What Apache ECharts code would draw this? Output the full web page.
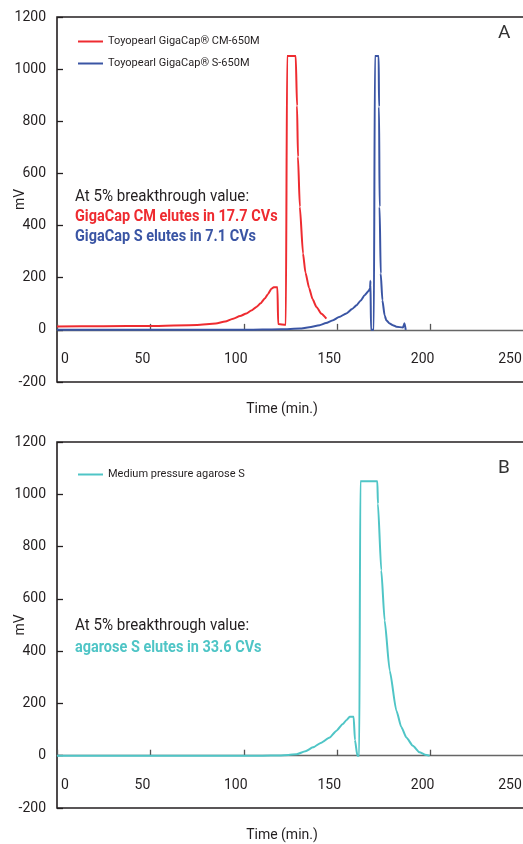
<!DOCTYPE html>
<html>
<head>
<meta charset="utf-8">
<script src="https://cdn.jsdelivr.net/npm/echarts@6/dist/echarts.min.js"></script>
<style>
  html, body { margin: 0; padding: 0; background: #fff; }
  #chart { width: 523px; height: 844px; }
</style>
</head>
<body>
<div id="chart"></div>
<script>
// --- data (time in min, signal in mV) ---
var cmTime = [0, 25, 50, 75, 85, 90, 94.3, 98, 101.4, 104, 106.8, 109, 111.2, 113, 114.8, 116, 118, 118.4, 122.5, 123.2, 127.8, 128.5, 129, 130, 131.7, 133, 135, 136.8, 138.9, 141.5, 144.2];
var cmSignal = [13, 14, 15, 19, 24, 32, 43, 53, 63, 74, 88, 102, 120, 138, 158, 163, 163, 22, 20, 1050, 1050, 860, 664, 472, 293, 220, 160, 118, 88, 62, 43];

var sTime = [0, 100, 110, 120, 130, 135, 140.6, 144, 147.8, 151, 154.9, 158, 160.3, 162.5, 164.7, 166.8, 167.6, 167.8, 168.1, 169.6, 170.2, 172.2, 172.4, 172.7, 173.3, 174.2, 175.4, 176.3, 178.1, 179.8, 181.7, 185.2, 186, 186.7];
var sSignal = [0, 0, 1, 2, 5, 10, 18, 26, 37, 49, 63, 80, 94, 112, 133, 149, 160, 188, 0, 0, 1050, 1050, 856, 472, 216, 114, 55, 37, 24, 18, 12, 9, 25, 0];

var agTime = [0, 110, 119, 124, 128.2, 133, 137, 141.5, 146, 149.5, 153, 155, 156.7, 158.8, 159.5, 160.8, 161.8, 162.4, 171.5, 171.8, 173.6, 175.4, 178.1, 181.7, 184.3, 187, 190.5, 194.1, 197, 199.5];
var agSignal = [0, 0, 1, 3, 6, 17, 32, 50, 70, 95, 121, 137, 149, 149, 60, 0, 0, 1050, 1050, 964, 709, 517, 326, 172, 110, 70, 38, 13, 4, 0];

var xTicks = [0, 50, 100, 150, 200, 250];
var yTicks = [-200, 0, 200, 400, 600, 800, 1000, 1200];

var cmName = 'Toyopearl GigaCap\u00ae CM-650M';
var sName = 'Toyopearl GigaCap\u00ae S-650M';
var agName = 'Medium pressure agarose S';

var RED = '#ee2b30', BLUE = '#3a55a4', TEAL = '#4fc5c6', INK = '#231f20';
var FONT = 'Roboto, sans-serif';

function pairs(xs, ys) {
    return xs.map(function (x, i) { return [x, ys[i]]; });
}

function xAxisFor(idx) {
    return {
        gridIndex: idx,
        type: 'value',
        min: xTicks[0],
        max: xTicks[xTicks.length - 1],
        interval: 50,
        name: 'Time (min.)',
        nameLocation: 'middle',
        nameGap: 20,
        nameMoveOverlap: false,
        nameTextStyle: {color: INK, fontFamily: FONT, fontSize: 14, padding: [0, 17, 0, 0]},
        axisLine: {onZero: true, lineStyle: {color: '#666', width: 1.3}},
        axisTick: {inside: true, length: 6, lineStyle: {color: '#555', width: 1.3}},
        splitLine: {show: false},
        axisLabel: {
            margin: -30,
            color: INK,
            fontFamily: FONT,
            fontSize: 14,
            formatter: function (v) {
                if (v === 0) return '{z|0}';
                if (v === 250) return '{e|250}';
                return '{m|' + v + '}';
            },
            rich: {
                z: {fontFamily: FONT, fontSize: 14, color: INK, padding: [0, 0, 0, 16]},
                m: {fontFamily: FONT, fontSize: 14, color: INK, padding: [0, 16, 0, 0]},
                e: {fontFamily: FONT, fontSize: 14, color: INK, padding: [0, 28, 0, 0]}
            }
        }
    };
}

function yAxisFor(idx) {
    return {
        gridIndex: idx,
        type: 'value',
        min: yTicks[0],
        max: yTicks[yTicks.length - 1],
        interval: 200,
        name: 'mV',
        nameLocation: 'middle',
        nameGap: 30,
        nameMoveOverlap: false,
        nameTextStyle: {color: INK, fontFamily: FONT, fontSize: 14},
        axisLine: {show: false},
        axisTick: {show: true, inside: true, length: 6, lineStyle: {color: INK, width: 1.3}},
        splitLine: {show: false},
        axisLabel: {
            margin: 11, color: INK, fontFamily: FONT, fontSize: 14,
            formatter: function (v) { return String(v); }
        }
    };
}

function lineSeries(name, idx, color, data) {
    return {
        name: name,
        type: 'line',
        xAxisIndex: idx,
        yAxisIndex: idx,
        data: data,
        symbol: 'none',
        smooth: 0.2,
        smoothMonotone: 'x',
        lineStyle: {color: color, width: 2},
        itemStyle: {color: color},
        animation: false,
        z: 3
    };
}

var legendBase = {
    orient: 'vertical',
    left: 78,
    padding: 0,
    icon: 'rect',
    itemWidth: 25, itemHeight: 2, itemGap: 11,
    textStyle: {color: INK, fontFamily: FONT, fontSize: 11}
};

// annotation text, squeezed horizontally to mimic the condensed face of the original
function note(x, y, text, color, bold, sx) {
    return {
        type: 'text', x: x, y: y, scaleX: sx,
        style: {text: text, fill: color, font: (bold ? 'bold ' : '') + '16px ' + FONT, align: 'left', verticalAlign: 'middle'}
    };
}

var chart = echarts.init(document.getElementById('chart'), null, {renderer: 'canvas'});
chart.setOption({
    backgroundColor: '#fff',
    animation: false,
    grid: [
        {left: 57, top: 17, width: 467, height: 365, show: true, borderColor: INK, borderWidth: 1.6,
         backgroundColor: 'transparent', containLabel: false, outerBoundsMode: 'none'},
        {left: 57, top: 442, width: 467, height: 366, show: true, borderColor: INK, borderWidth: 1.6,
         backgroundColor: 'transparent', containLabel: false, outerBoundsMode: 'none'}
    ],
    xAxis: [xAxisFor(0), xAxisFor(1)],
    yAxis: [yAxisFor(0), yAxisFor(1)],
    legend: [
        Object.assign({}, legendBase, {data: [cmName, sName], top: 36}),
        Object.assign({}, legendBase, {data: [agName], top: 469})
    ],
    series: [
        lineSeries(cmName, 0, RED, pairs(cmTime, cmSignal)),
        lineSeries(sName, 0, BLUE, pairs(sTime, sSignal)),
        lineSeries(agName, 1, TEAL, pairs(agTime, agSignal))
    ],
    graphic: [
        {type: 'text', left: 498, top: 24, style: {text: 'A', fill: '#333', font: '19px ' + FONT}},
        {type: 'text', left: 498, top: 459, style: {text: 'B', fill: '#333', font: '19px ' + FONT}},
        note(75, 197, 'At 5% breakthrough value:', INK, false, 0.945),
        note(75, 217, 'GigaCap CM elutes in 17.7 CVs', RED, true, 0.905),
        note(75, 237, 'GigaCap S elutes in 7.1 CVs', BLUE, true, 0.905),
        note(75, 626, 'At 5% breakthrough value:', INK, false, 0.945),
        note(75, 648, 'agarose S elutes in 33.6 CVs', TEAL, true, 0.905)
    ]
});
</script>
</body>
</html>
